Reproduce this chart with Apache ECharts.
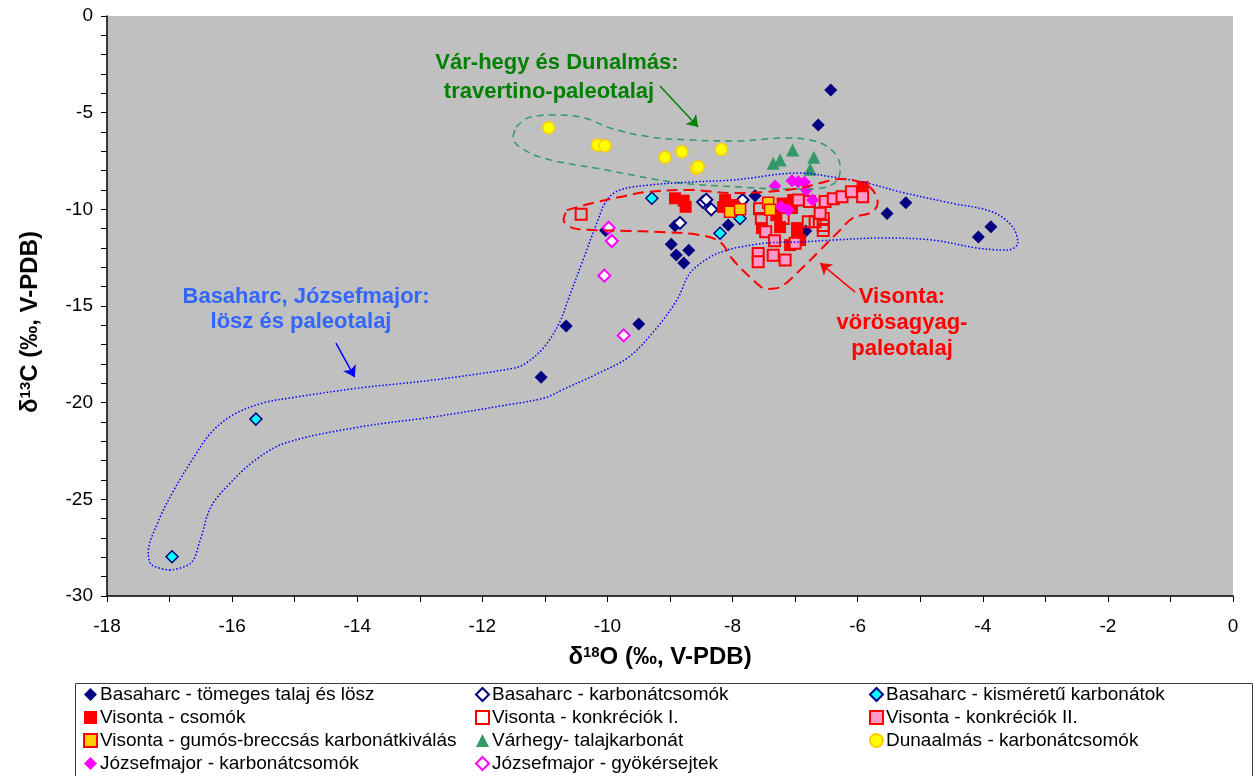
<!DOCTYPE html>
<html><head><meta charset="utf-8">
<script src="https://cdn.jsdelivr.net/npm/echarts@6/dist/echarts.min.js"></script>
<style>html,body{margin:0;padding:0;background:#fff}#c{width:1254px;height:776px}</style>
</head><body><div id="c"></div>
<script>
// ---------- DATA ----------
const xTickLabels = [-18, -16, -14, -12, -10, -8, -6, -4, -2, 0];
const yTickLabels = [-30, -25, -20, -15, -10, -5, 0];

const seriesNames = [
  'Basaharc - tömeges talaj és lösz',
  'Basaharc - karbonátcsomók',
  'Basaharc - kisméretű karbonátok',
  'Visonta - csomók',
  'Visonta - konkréciók I.',
  'Visonta - konkréciók II.',
  'Visonta - gumós-breccsás karbonátkiválás',
  'Várhegy- talajkarbonát',
  'Dunaalmás - karbonátcsomók',
  'Józsefmajor - karbonátcsomók',
  'Józsefmajor - gyökérsejtek'
];

const basTomeges = [[-6.43,-3.83],[-6.63,-5.64],[-11.06,-18.68],[-10.66,-16.04],[-9.50,-15.93],[-8.98,-11.80],[-8.90,-12.36],[-8.78,-12.78],[-8.70,-12.11],[-10.03,-11.10],[-8.92,-10.85],[-8.07,-10.81],[-7.64,-9.30],[-6.83,-11.12],[-5.53,-10.22],[-5.23,-9.66],[-3.87,-10.90],[-4.07,-11.43]];
const basKarb = [[-8.47,-9.62],[-8.42,-9.50],[-8.34,-10.00],[-8.84,-10.70],[-7.84,-9.52]];
const basKism = [[-16.96,-27.97],[-15.62,-20.85],[-9.29,-9.43],[-8.20,-11.24],[-7.88,-10.47]];
const visCsomok = [[-8.92,-9.43],[-8.78,-9.55],[-8.75,-9.87],[-8.12,-9.52],[-8.15,-9.88],[-7.99,-9.78],[-7.03,-9.52],[-7.05,-9.93],[-7.24,-10.92],[-7.53,-10.97],[-6.97,-10.97],[-6.97,-11.43],[-7.08,-11.85],[-6.92,-11.59],[-5.92,-8.85],[-7.20,-9.70],[-7.30,-10.30]];
const visKonkI = [[-10.42,-10.26],[-6.79,-10.64],[-6.68,-10.64],[-6.55,-10.47],[-6.55,-10.84],[-6.55,-11.10],[-7.54,-10.47],[-7.19,-10.47],[-7.57,-9.97]];
const visKonkII = [[-7.47,-11.16],[-7.33,-11.63],[-7.59,-12.28],[-7.59,-12.71],[-7.35,-12.38],[-7.16,-12.62],[-7.00,-11.76],[-6.95,-9.52],[-6.77,-9.60],[-6.60,-10.20],[-6.52,-9.60],[-6.39,-9.45],[-6.25,-9.35],[-6.10,-9.09],[-5.92,-9.35]];
const visGumos = [[-8.04,-10.12],[-7.88,-10.00],[-7.43,-9.66],[-7.40,-10.02]];
const varhegy = [[-7.35,-7.62],[-7.24,-7.45],[-7.04,-6.93],[-6.70,-7.31],[-6.76,-7.93]];
const dunaalmas = [[-10.94,-5.78],[-10.16,-6.67],[-10.04,-6.71],[-9.08,-7.31],[-8.81,-7.02],[-8.58,-7.88],[-8.55,-7.80],[-8.18,-6.90]];
const jozsKarb = [[-7.32,-8.79],[-7.05,-8.52],[-6.95,-8.57],[-6.85,-8.60],[-6.82,-9.00],[-6.72,-9.52],[-7.22,-9.86],[-7.11,-10.04]];
const jozsGyok = [[-9.98,-10.95],[-9.93,-11.64],[-10.05,-13.43],[-9.74,-16.52]];

// annotation outlines (data units)
const outlineGreen = [[-11.46,-5.74],[-11.24,-5.23],[-10.76,-5.12],[-10.36,-5.28],[-9.96,-5.79],[-9.32,-6.26],[-8.68,-6.41],[-7.96,-6.47],[-7.16,-6.31],[-6.68,-6.47],[-6.40,-6.98],[-6.28,-7.76],[-6.32,-8.48],[-6.57,-8.90],[-7.08,-8.95],[-7.88,-8.85],[-8.95,-8.59],[-10.01,-7.97],[-11.03,-7.35],[-11.40,-6.78],[-11.51,-6.31],[-11.46,-5.74]];
const outlineBlue = [[-16.99,-28.66],[-17.28,-28.40],[-17.34,-27.78],[-17.17,-26.07],[-16.93,-24.52],[-16.64,-22.97],[-16.34,-21.57],[-15.99,-20.64],[-15.51,-20.02],[-14.98,-19.71],[-13.97,-19.24],[-12.79,-18.83],[-11.49,-18.21],[-11.30,-17.95],[-11.01,-17.12],[-10.77,-15.88],[-10.63,-14.69],[-10.39,-12.62],[-10.17,-10.71],[-10.01,-9.52],[-9.80,-9.00],[-9.32,-8.74],[-8.68,-8.59],[-7.99,-8.48],[-6.92,-8.12],[-6.40,-8.33],[-5.85,-8.64],[-5.32,-9.10],[-4.52,-9.67],[-3.84,-10.14],[-3.52,-10.92],[-3.44,-11.74],[-3.61,-12.11],[-4.09,-12.00],[-4.80,-11.59],[-5.60,-11.48],[-6.40,-11.59],[-6.92,-11.69],[-7.45,-11.74],[-7.88,-11.95],[-8.09,-12.11],[-8.36,-12.47],[-8.68,-13.30],[-8.89,-14.69],[-9.24,-16.24],[-9.66,-17.64],[-10.14,-18.47],[-10.73,-19.35],[-11.01,-19.76],[-11.61,-20.12],[-12.79,-20.74],[-13.97,-21.26],[-15.15,-22.09],[-15.63,-22.97],[-16.03,-24.16],[-16.34,-25.40],[-16.51,-27.11],[-16.66,-28.30],[-16.99,-28.66]];
const outlineRed = [[-10.65,-10.04],[-10.23,-9.67],[-9.80,-9.36],[-9.37,-9.10],[-8.68,-9.00],[-7.99,-9.16],[-7.45,-9.10],[-6.92,-8.90],[-6.60,-8.64],[-6.28,-8.43],[-5.96,-8.59],[-5.76,-9.00],[-5.68,-9.67],[-5.77,-10.14],[-6.08,-10.45],[-6.28,-11.07],[-6.60,-12.11],[-6.92,-13.14],[-7.24,-14.02],[-7.45,-14.12],[-7.72,-13.50],[-7.99,-12.62],[-8.20,-11.69],[-8.52,-11.33],[-9.16,-11.17],[-9.69,-11.12],[-10.23,-11.07],[-10.55,-10.97],[-10.70,-10.55],[-10.65,-10.04]];

// arrows: [tail, head]
const arrowGreen = [[-9.16,-3.62],[-8.55,-5.74]];
const arrowBlue = [[-14.34,-16.92],[-14.04,-18.68]];
const arrowRed = [[-6.04,-14.28],[-6.60,-12.78]];

const annGreen = ['Vár-hegy és Dunalmás:', 'travertino-paleotalaj'];
const annBlue = ['Basaharc, Józsefmajor:', 'lösz és paleotalaj'];
const annRed = ['Visonta:', 'vörösagyag-', 'paleotalaj'];

// ---------- CHART ----------
const FONT = 'Arial, "Liberation Sans", sans-serif';
const chart = echarts.init(document.getElementById('c'), null, {renderer: 'canvas'});

const datasets = [basTomeges, basKarb, basKism, visCsomok, visKonkI, visKonkII, visGumos, varhegy, dunaalmas, jozsKarb, jozsGyok];
const styles = [
  {symbol:'diamond', size:13, color:'#000080', border:'#000080', bw:0},
  {symbol:'diamond', size:12, color:'#FFFFFF', border:'#000080', bw:2},
  {symbol:'diamond', size:12, color:'#00FFFF', border:'#000080', bw:1.5},
  {symbol:'rect', size:12, color:'#FF0000', border:'#FF0000', bw:0},
  {symbol:'rect', size:11, color:'rgba(0,0,0,0)', border:'#FF0000', bw:2},
  {symbol:'rect', size:11, color:'#FF99CC', border:'#FF0000', bw:2},
  {symbol:'rect', size:11, color:'#FFCC00', border:'#FF0000', bw:1.5},
  {symbol:'triangle', size:13, color:'#339966', border:'#339966', bw:0},
  {symbol:'circle', size:12, color:'#FFFF00', border:'#FFCC00', bw:1.5},
  {symbol:'diamond', size:13, color:'#FF00FF', border:'#FF00FF', bw:0},
  {symbol:'diamond', size:12, color:'#FFFFFF', border:'#FF00FF', bw:2}
];

const series = datasets.map((d, i) => ({
  name: seriesNames[i], type: 'scatter', data: d,
  symbol: styles[i].symbol, symbolSize: styles[i].size,
  itemStyle: {color: styles[i].color, borderColor: styles[i].border, borderWidth: styles[i].bw, opacity: 1},
  emphasis: {disabled: true}, z: 2
}));

function outline(data, color, type, width) {
  return {type:'line', data:data, smooth:0.35, showSymbol:false, silent:true, z:4,
    lineStyle:{color:color, type:type, width:width}, emphasis:{disabled:true}};
}
series.push(outline(outlineGreen, '#339966', [7,5], 1.5));
series.push(outline(outlineBlue, '#0000FF', [1.5,2], 1.5));
series.push(outline(outlineRed, '#FF0000', [11,6], 2));

series.push({
  type:'lines', coordinateSystem:'cartesian2d', silent:true, z:5,
  symbol:['none','arrow'], symbolSize:11,
  data:[
    {coords: arrowGreen, lineStyle:{color:'#008000', width:1.5}},
    {coords: arrowBlue, lineStyle:{color:'#0000FF', width:1.5}},
    {coords: arrowRed, lineStyle:{color:'#FF0000', width:1.5}}
  ],
  lineStyle:{opacity:1, curveness:0}
});

function legendCol(left, idx) {
  return {
    show:true, orient:'vertical', left:left, top:685, itemGap:4,
    itemWidth:13, itemHeight:13, selectedMode:false, padding:0,
    textStyle:{fontFamily:FONT, fontSize:19, color:'#000', padding:[0,0,0,-2]},
    data: idx.map(i => seriesNames[i])
  };
}

function annText(lines, centers, cy0, step, color) {
  return lines.map((t, k) => ({
    type:'text', z:10, silent:true,
    style:{text:t, x:centers[k], y:cy0 + k*step, textAlign:'center', textVerticalAlign:'middle',
      font:'bold 22px ' + FONT, fill:color}
  }));
}

const titleRich = {
  d:{fontFamily:FONT, fontSize:24, fontWeight:'bold', color:'#000'},
  s:{fontFamily:FONT, fontSize:15, fontWeight:'bold', color:'#000', verticalAlign:'top', lineHeight:15}
};

const option = {
  backgroundColor:'#FFFFFF',
  animation:false,
  grid:{left:107, right:21, top:16, bottom:180, show:true, backgroundColor:'#C0C0C0', borderWidth:0},
  xAxis:{
    type:'value', min:xTickLabels[0], max:xTickLabels[xTickLabels.length-1],
    interval:xTickLabels[1]-xTickLabels[0],
    axisLine:{show:true, onZero:false, lineStyle:{color:'#000', width:1.5}},
    axisTick:{show:true, length:6, lineStyle:{color:'#000', width:1}},
    minorTick:{show:true, splitNumber:2, length:6, lineStyle:{color:'#000', width:1}},
    splitLine:{show:false},
    axisLabel:{fontFamily:FONT, fontSize:19, color:'#000', margin:21}
  },
  yAxis:{
    type:'value', min:yTickLabels[0], max:yTickLabels[yTickLabels.length-1],
    interval:yTickLabels[1]-yTickLabels[0],
    axisLine:{show:true, onZero:false, lineStyle:{color:'#000', width:1.5}},
    axisTick:{show:true, length:6, lineStyle:{color:'#000', width:1}},
    minorTick:{show:true, splitNumber:5, length:6, lineStyle:{color:'#000', width:1}},
    splitLine:{show:false},
    axisLabel:{fontFamily:FONT, fontSize:19, color:'#000', margin:14}
  },
  legend:[legendCol(83,[0,3,6,9]), legendCol(475,[1,4,7,10]), legendCol(869,[2,5,8])],
  graphic:[
    {type:'rect', z:-1, silent:true, shape:{x:75.5, y:683.5, width:1177, height:110},
      style:{fill:'#FFFFFF', stroke:'#404040', lineWidth:1}},
    ...annText(annGreen, [557, 549], 63, 29, '#008000'),
    ...annText(annBlue, [306, 301], 297, 25, '#3366FF'),
    ...annText(annRed, [902, 902, 902], 297, 26, '#FF0000'),
    {type:'text', z:10, silent:true,
      style:{text:'{d|δ}{s|18}{d|O (‰, V-PDB)}', rich:titleRich, x:660, y:657,
        textAlign:'center', textVerticalAlign:'middle'}},
    {type:'text', z:10, silent:true, x:30, y:322, rotation:Math.PI/2,
      style:{text:'{d|δ}{s|13}{d|C (‰, V-PDB)}', rich:titleRich, x:0, y:0,
        textAlign:'center', textVerticalAlign:'middle'}}
  ],
  series:series
};
chart.setOption(option);
</script>
</body></html>
